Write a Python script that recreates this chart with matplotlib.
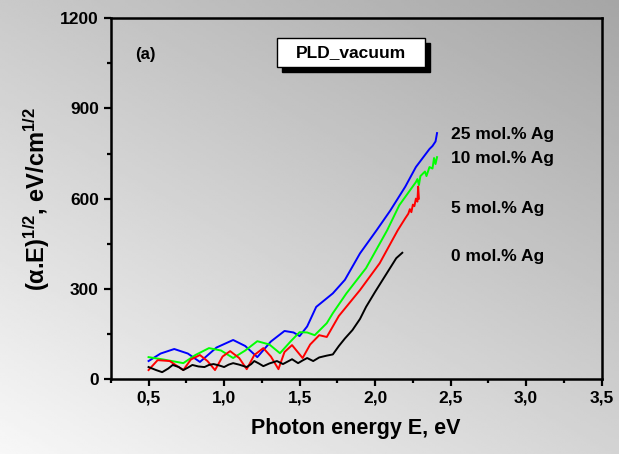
import numpy as np
import matplotlib
matplotlib.use("Agg")
import matplotlib.pyplot as plt
from matplotlib.patches import Rectangle
from matplotlib.ticker import MultipleLocator, FuncFormatter

plt.rcParams['font.family'] = ['Liberation Sans', 'DejaVu Sans']
plt.rcParams['font.weight'] = 'bold'
plt.rcParams['mathtext.fontset'] = 'custom'
plt.rcParams['mathtext.rm'] = 'Liberation Sans:bold'
plt.rcParams['mathtext.bf'] = 'Liberation Sans:bold'
plt.rcParams['mathtext.it'] = 'Liberation Sans:bold'

# data
e_blue = [0.50, 0.58, 0.67, 0.76, 0.84, 0.95, 1.06, 1.14, 1.22, 1.31, 1.40, 1.46, 1.50,
          1.55, 1.61, 1.72, 1.80, 1.90, 2.01, 2.10, 2.20, 2.27, 2.33, 2.36, 2.38, 2.40, 2.41]
v_blue = [60, 85, 100, 85, 57, 105, 130, 110, 73, 125, 160, 155, 143,
          175, 240, 285, 330, 418, 495, 560, 640, 705, 745, 765, 775, 790, 818]

e_green = [0.50, 0.60, 0.73, 0.81, 0.90, 0.98, 1.06, 1.14, 1.22, 1.30, 1.37, 1.44, 1.50,
           1.55, 1.60, 1.68, 1.72, 1.81, 1.94, 2.08, 2.16, 2.22, 2.27, 2.28, 2.29, 2.30,
           2.33, 2.34, 2.36, 2.38, 2.39, 2.40, 2.41]
v_green = [73, 65, 53, 80, 103, 95, 70, 95, 126, 115, 86, 125, 156,
           155, 146, 186, 219, 285, 369, 495, 578, 620, 655, 665, 645, 675,
           690, 675, 705, 700, 735, 715, 738]

e_red = [0.50, 0.56, 0.64, 0.73, 0.78, 0.84, 0.89, 0.94, 0.99, 1.04, 1.10, 1.15, 1.20,
         1.26, 1.31, 1.36, 1.40, 1.45, 1.52, 1.57, 1.63, 1.68, 1.76, 1.90, 2.03, 2.15,
         2.20, 2.22, 2.23, 2.24, 2.25, 2.26, 2.27, 2.28, 2.285, 2.29]
v_red = [30, 63, 60, 30, 65, 80, 60, 30, 75, 93, 70, 33, 80,
         103, 75, 33, 90, 113, 70, 115, 146, 140, 210, 296, 385, 495,
         535, 550, 565, 555, 580, 575, 600, 590, 640, 600]

e_black = [0.50, 0.55, 0.59, 0.63, 0.66, 0.70, 0.73, 0.76, 0.79, 0.83, 0.87, 0.90, 0.93,
           0.97, 1.00, 1.03, 1.06, 1.10, 1.15, 1.18, 1.20, 1.23, 1.26, 1.30, 1.35, 1.39,
           1.42, 1.45, 1.49, 1.52, 1.55, 1.59, 1.63, 1.68, 1.72, 1.76, 1.80, 1.85, 1.90,
           1.94, 2.00, 2.05, 2.10, 2.14, 2.18]
v_black = [40, 30, 23, 35, 47, 40, 30, 38, 47, 42, 40, 47, 50,
           45, 40, 48, 53, 48, 40, 50, 60, 52, 43, 52, 60, 50,
           58, 66, 53, 62, 70, 60, 72, 78, 82, 110, 135, 163, 200,
           240, 290, 330, 370, 402, 420]

labels = ["25 mol.% Ag", "10 mol.% Ag", "5 mol.% Ag", "0 mol.% Ag"]
label_y = [812, 735, 568, 408]

fig = plt.figure(figsize=(6.19, 4.54), dpi=100)

# gradient background
bg = fig.add_axes([0, 0, 1, 1], zorder=-1)
tx, ty = np.meshgrid(np.linspace(0, 1, 200), np.linspace(0, 1, 200))
bg.imshow(0.97 - 0.18 * ty - 0.14 * tx, cmap='gray', vmin=0, vmax=1,
          origin='lower', aspect='auto', extent=[0, 1, 0, 1])
bg.axis('off')

ax = fig.add_axes([0.179, 0.165, 0.793, 0.795])
ax.set_facecolor('none')

ax.plot(e_blue, v_blue, color='#0000ff', lw=1.4)
ax.plot(e_green, v_green, color='#00ff00', lw=1.4)
ax.plot(e_red, v_red, color='#ff0000', lw=1.4)
ax.plot(e_black, v_black, color='black', lw=1.4)

ax.set_xlim(0.25, 3.5)
ax.set_ylim(0, 1200)
ax.xaxis.set_major_locator(MultipleLocator(0.5))
ax.xaxis.set_minor_locator(MultipleLocator(0.25))
ax.yaxis.set_major_locator(MultipleLocator(300))
ax.yaxis.set_minor_locator(MultipleLocator(150))
ax.xaxis.set_major_formatter(FuncFormatter(lambda x, p: f"{x:.1f}".replace('.', ',')))
ax.tick_params(which='major', direction='out', length=5, width=1.6, labelsize=12.5)
ax.tick_params(which='minor', direction='out', length=3, width=1.6)
for s in ax.spines.values():
    s.set_linewidth(1.8)

ax.set_xlabel("Photon energy E, eV", fontsize=15.5, fontweight='bold', labelpad=9)
ax.set_ylabel("(α.E)$^{1/2}$, eV/cm$^{1/2}$", fontsize=17, fontweight='bold', labelpad=6)

for t, y in zip(labels, label_y):
    ax.text(2.5, y, t, fontsize=12.5, fontweight='bold', va='center')

ax.text(0.05, 0.9, "(a)", transform=ax.transAxes, fontsize=12, fontweight='bold', va='center')

# title box with shadow
ax.add_patch(Rectangle((0.348, 0.85), 0.302, 0.081, transform=ax.transAxes,
                       facecolor='black', edgecolor='black', clip_on=False))
ax.add_patch(Rectangle((0.338, 0.864), 0.302, 0.081, transform=ax.transAxes,
                       facecolor='white', edgecolor='black', lw=1.0, clip_on=False))
ax.text(0.489, 0.905, "PLD_vacuum", transform=ax.transAxes, fontsize=12.5,
        fontweight='bold', ha='center', va='center')

fig.savefig("out.png", dpi=100)
